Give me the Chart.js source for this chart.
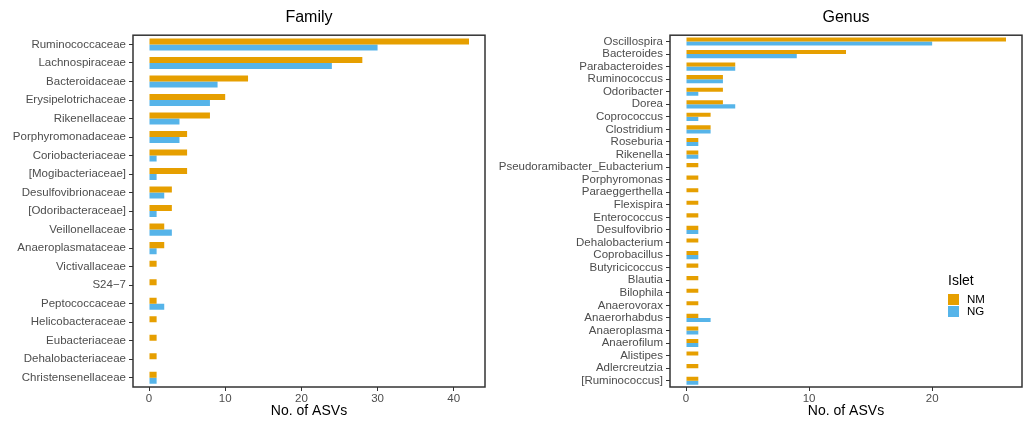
<!DOCTYPE html>
<html>
<head>
<meta charset="utf-8">
<script src="https://cdn.jsdelivr.net/npm/chart.js@4"></script>
<style>
  body { margin: 0; background: #fff; font-family: "Liberation Sans", Arial, sans-serif; }
  #wrap { position: relative; width: 1027px; height: 421px; }
  canvas { position: absolute; top: 0; }
  #familyChart { left: 0; }
  #genusChart { left: 490px; }
  #legend { position: absolute; left: 948px; top: 272px; color: #000; }
  #legend .ttl { font-size: 14px; margin-bottom: 5px; }
  #legend .item { display: flex; align-items: center; height: 12px; font-size: 11.5px; }
  #legend .sw { width: 11px; height: 11px; margin-right: 8px; }
</style>
</head>
<body>
<div id="wrap">
  <canvas id="familyChart" width="490" height="421"></canvas>
  <canvas id="genusChart" width="537" height="421"></canvas>
  <div id="legend"></div>
</div>
<script>
// Family level counts (NM = top bar, NG = bottom bar)
const familyLabels = ['Ruminococcaceae', 'Lachnospiraceae', 'Bacteroidaceae', 'Erysipelotrichaceae',
  'Rikenellaceae', 'Porphyromonadaceae', 'Coriobacteriaceae', '[Mogibacteriaceae]',
  'Desulfovibrionaceae', '[Odoribacteraceae]', 'Veillonellaceae', 'Anaeroplasmataceae',
  'Victivallaceae', 'S24\u22127', 'Peptococcaceae', 'Helicobacteraceae', 'Eubacteriaceae',
  'Dehalobacteriaceae', 'Christensenellaceae'];
const familyNM = [42, 28, 13, 10, 8, 5, 5, 5, 3, 3, 2, 2, 1, 1, 1, 1, 1, 1, 1];
const familyNG = [30, 24, 9, 8, 4, 4, 1, 1, 2, 1, 3, 1, 0, 0, 2, 0, 0, 0, 1];
const familyTicks = [0, 10, 20, 30, 40];

// Genus level counts
const genusLabels = ['Oscillospira', 'Bacteroides', 'Parabacteroides', 'Ruminococcus', 'Odoribacter',
  'Dorea', 'Coprococcus', 'Clostridium', 'Roseburia', 'Rikenella', 'Pseudoramibacter_Eubacterium',
  'Porphyromonas', 'Paraeggerthella', 'Flexispira', 'Enterococcus', 'Desulfovibrio',
  'Dehalobacterium', 'Coprobacillus', 'Butyricicoccus', 'Blautia', 'Bilophila', 'Anaerovorax',
  'Anaerorhabdus', 'Anaeroplasma', 'Anaerofilum', 'Alistipes', 'Adlercreutzia', '[Ruminococcus]'];
const genusNM = [26, 13, 4, 3, 3, 3, 2, 2, 1, 1, 1, 1, 1, 1, 1, 1, 1, 1, 1, 1, 1, 1, 1, 1, 1, 1, 1, 1];
const genusNG = [20, 9, 4, 3, 1, 4, 1, 2, 1, 1, 0, 0, 0, 0, 0, 1, 0, 1, 0, 0, 0, 0, 2, 1, 1, 0, 0, 1];
const genusTicks = [0, 10, 20];

const seriesNames = ['NM', 'NG'];
const seriesColors = ['#E69F00', '#56B4E9'];

const FONT = '"Liberation Sans", Arial, sans-serif';
const GREY = '#4D4D4D';
const LINE = '#333333';

// box around the panel, like the ggplot panel border
const panelBorder = {
    id: 'panelBorder',
    afterDraw(chart) {
        const { ctx, chartArea: a } = chart;
        ctx.save();
        ctx.strokeStyle = LINE;
        ctx.lineWidth = 1.5;
        ctx.strokeRect(a.left, a.top, a.right - a.left, a.bottom - a.top);
        ctx.restore();
    }
};

function makeChart(id, title, labels, nm, ng, xMin, xMax, ticks, yWidth) {
    const ctx = document.getElementById(id).getContext('2d');
    return new Chart(ctx, {
        type: 'bar',
        data: {
            labels: labels,
            datasets: [
                { label: seriesNames[0], data: nm, backgroundColor: seriesColors[0] },
                { label: seriesNames[1], data: ng, backgroundColor: seriesColors[1] }
            ]
        },
        options: {
            indexAxis: 'y',
            responsive: false,
            animation: false,
            categoryPercentage: 0.65,
            barPercentage: 1.0,
            layout: { padding: { left: 0, right: 5, top: 0, bottom: 0 } },
            plugins: {
                legend: { display: false },
                tooltip: { enabled: false },
                title: {
                    display: true,
                    text: title,
                    fullSize: false,
                    color: '#000',
                    font: { family: FONT, size: 16, weight: 'normal' },
                    padding: { top: 8, bottom: 8 }
                }
            },
            scales: {
                x: {
                    type: 'linear',
                    min: xMin,
                    max: xMax,
                    afterBuildTicks: s => { s.ticks = ticks.map(v => ({ value: v })); },
                    afterFit: s => { s.height = 34; },
                    grid: { drawOnChartArea: false, drawTicks: true, tickLength: 4, color: LINE },
                    border: { display: false },
                    ticks: { color: GREY, font: { family: FONT, size: 11.5 }, padding: 1 },
                    title: {
                        display: true,
                        text: 'No. of ASVs',
                        color: '#000',
                        font: { family: FONT, size: 14 },
                        padding: { top: 0, bottom: 1 }
                    }
                },
                y: {
                    type: 'category',
                    offset: true,
                    afterFit: s => { s.width = yWidth; },
                    grid: { offset: false, drawOnChartArea: false, drawTicks: true, tickLength: 4, color: LINE },
                    border: { display: false },
                    ticks: { color: GREY, font: { family: FONT, size: 11.5 }, padding: 3, autoSkip: false }
                }
            }
        },
        plugins: [panelBorder]
    });
}

makeChart('familyChart', 'Family', familyLabels, familyNM, familyNG, -2.1, 44.1, familyTicks, 133);
makeChart('genusChart', 'Genus', genusLabels, genusNM, genusNG, -1.3, 27.3, genusTicks, 180);

// legend ("Islet") sits inside the Genus panel
const legend = document.getElementById('legend');
let html = '<div class="ttl">Islet</div>';
seriesNames.forEach((name, i) => {
    html += '<div class="item"><span class="sw" style="background:' + seriesColors[i] + '"></span>' + name + '</div>';
});
legend.innerHTML = html;
</script>
</body>
</html>
